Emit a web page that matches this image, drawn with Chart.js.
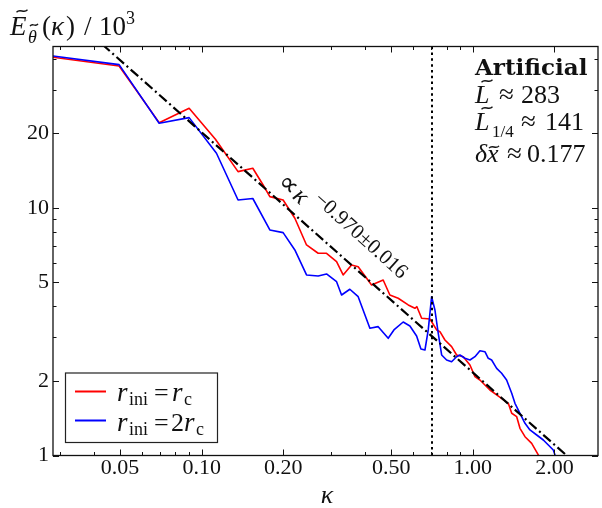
<!DOCTYPE html>
<html><head><meta charset="utf-8">
<script src="https://cdn.jsdelivr.net/npm/chart.js@4.4.1/dist/chart.umd.min.js"></script>
<style>html,body{margin:0;padding:0;background:#fff}#wrap{width:602px;height:508px}</style>
</head><body><div id="wrap"><canvas id="c" width="602" height="508"></canvas></div>
<script>
// ---- data (kappa, E/10^3) ----
const redK = [0.0283, 0.0496, 0.0697, 0.0899, 0.1124, 0.1362, 0.1544, 0.1685, 0.1784, 0.1997, 0.2206, 0.2436, 0.2689, 0.2887, 0.3144, 0.3324, 0.3570, 0.3777, 0.4232, 0.4670, 0.4943, 0.5305, 0.5777, 0.6114, 0.6219, 0.6474, 0.6945, 0.7354, 0.7563, 0.7889, 0.8350, 0.8713, 0.9217, 0.9757, 1.018, 1.062, 1.156, 1.224, 1.351, 1.391, 1.451, 1.492, 1.557, 1.648, 1.743, 1.799];
const redE = [40.63, 37.47, 22.11, 25.28, 18.95, 14.02, 14.47, 12.38, 11.11, 10.77, 9.087, 7.088, 6.561, 6.561, 6.067, 5.362, 5.885, 5.792, 4.886, 5.118, 4.451, 4.317, 4.057, 3.933, 3.992, 3.584, 3.561, 3.215, 3.164, 2.929, 2.752, 2.547, 2.507, 2.321, 2.082, 2.019, 1.839, 1.756, 1.625, 1.481, 1.435, 1.288, 1.191, 1.120, 1.005, 0.941];
const blueK = [0.0283, 0.0496, 0.0697, 0.0899, 0.1134, 0.1362, 0.1544, 0.1784, 0.1997, 0.2206, 0.2436, 0.2689, 0.2887, 0.3144, 0.3280, 0.3519, 0.3777, 0.4172, 0.4477, 0.4874, 0.5116, 0.5535, 0.5860, 0.6203, 0.6435, 0.6658, 0.6847, 0.7046, 0.7247, 0.7455, 0.7672, 0.8003, 0.8350, 0.8713, 0.8961, 0.9350, 0.9757, 1.018, 1.062, 1.108, 1.140, 1.173, 1.224, 1.277, 1.332, 1.391, 1.430, 1.492, 1.557, 1.624, 1.720, 1.819, 1.898, 1.980, 2.026];
const blueE = [41.12, 37.93, 21.99, 23.17, 16.63, 10.77, 10.92, 8.150, 7.948, 6.766, 5.362, 5.312, 5.411, 5.037, 4.451, 4.694, 4.381, 3.266, 3.315, 2.975, 3.215, 3.462, 3.337, 3.040, 2.693, 2.668, 3.215, 4.381, 3.871, 3.117, 2.547, 2.431, 2.393, 2.507, 2.547, 2.470, 2.431, 2.507, 2.651, 2.627, 2.470, 2.431, 2.250, 2.148, 2.019, 1.784, 1.625, 1.481, 1.349, 1.268, 1.210, 1.155, 1.103, 1.053, 0.977];
// power-law fit line end points
const fitK = [0.043, 2.3];
const fitE = [45.8, 0.965];
// vertical dotted marker
const markK = [0.707, 0.707];
const markE = [0.9, 50];
// ticks
const xMajor = [0.05, 0.1, 0.2, 0.5, 1, 2];
const xLabels = ['0.05', '0.10', '0.20', '0.50', '1.00', '2.00'];
const xMinor = [0.03, 0.04, 0.06, 0.07, 0.08, 0.09, 0.3, 0.4, 0.6, 0.7, 0.8, 0.9];
const yMajor = [1, 2, 5, 10, 20];
const yLabels = ['1', '2', '5', '10', '20'];
const yMinor = [3, 4, 6, 7, 8, 9, 30, 40];

const pts = (ks, es) => ks.map((k, i) => ({x: k, y: es[i]}));
const SERIF = '"Liberation Serif"';

function tx(ctx, s, x, y, font, align) {
  ctx.font = font; ctx.textAlign = align || 'left'; ctx.textBaseline = 'alphabetic';
  ctx.fillText(s, x, y);
}
function tilde(ctx, cx, cy, w) {
  ctx.save();
  ctx.lineWidth = 1.3; ctx.strokeStyle = '#111';
  ctx.beginPath();
  ctx.moveTo(cx - w / 2, cy + 1.2);
  ctx.bezierCurveTo(cx - w / 6, cy - 3, cx + w / 6, cy + 3, cx + w / 2, cy - 1.2);
  ctx.stroke();
  ctx.restore();
}

const decor = {
  id: 'decor',
  afterDatasetsDraw(chart) {
    const {ctx, chartArea: a, scales: {x, y}} = chart;
    ctx.save();
    // frame
    ctx.strokeStyle = '#111';
    ctx.lineWidth = 1.3;
    ctx.strokeRect(a.left, a.top, a.right - a.left, a.bottom - a.top);
    // inward ticks on all sides
    ctx.lineWidth = 1;
    ctx.beginPath();
    const xt = (v, L) => { const p = Math.round(x.getPixelForValue(v)) + 0.5;
      ctx.moveTo(p, a.bottom); ctx.lineTo(p, a.bottom - L); ctx.moveTo(p, a.top); ctx.lineTo(p, a.top + L); };
    const yt = (v, L) => { const p = Math.round(y.getPixelForValue(v)) + 0.5;
      ctx.moveTo(a.left, p); ctx.lineTo(a.left + L, p); ctx.moveTo(a.right, p); ctx.lineTo(a.right - L, p); };
    xMajor.forEach(v => xt(v, 6)); xMinor.forEach(v => xt(v, 3.5));
    yMajor.forEach(v => yt(v, 6)); yMinor.forEach(v => yt(v, 3.5));
    ctx.stroke();

    ctx.fillStyle = '#111';
    // y title (top-left)
    tx(ctx, 'E', 10, 35, 'italic 27px ' + SERIF);
    tilde(ctx, 22, 11, 11);
    tx(ctx, 'θ', 28, 43, 'italic 18px ' + SERIF);
    tilde(ctx, 34, 25, 8);
    tx(ctx, '(', 42, 35, '27px ' + SERIF);
    tx(ctx, 'κ', 51, 35, 'italic 27px ' + SERIF);
    tx(ctx, ')', 66, 35, '27px ' + SERIF);
    tx(ctx, '/', 84, 35, '27px ' + SERIF);
    tx(ctx, '10', 99, 35, '27px ' + SERIF);
    tx(ctx, '3', 126, 24, '18px ' + SERIF);

    // x title
    tx(ctx, 'κ', 327, 503, 'italic 26px ' + SERIF, 'center');

    // info box (top-right)
    tx(ctx, 'Artificial', 475, 75, 'bold 23px "DejaVu Serif"');
    tx(ctx, 'L', 475, 103, 'italic 26px ' + SERIF);
    tilde(ctx, 487, 81, 11);
    tx(ctx, '≈', 499, 103, '27px ' + SERIF);
    tx(ctx, '283', 521, 103, '26px ' + SERIF);
    tx(ctx, 'L', 475, 130, 'italic 26px ' + SERIF);
    tilde(ctx, 487, 108, 11);
    tx(ctx, '1/4', 492, 137, '17px ' + SERIF);
    tx(ctx, '≈', 521, 130, '27px ' + SERIF);
    tx(ctx, '141', 545, 130, '26px ' + SERIF);
    tx(ctx, 'δ', 475, 162, 'italic 26px ' + SERIF);
    tx(ctx, 'x', 487, 162, 'italic 26px ' + SERIF);
    tilde(ctx, 494, 147, 10);
    tx(ctx, '≈', 507, 162, '27px ' + SERIF);
    tx(ctx, '0.177', 527, 162, '26px ' + SERIF);

    // rotated power-law annotation
    ctx.save();
    ctx.translate(276, 183.5);
    ctx.rotate(42 * Math.PI / 180);
    tx(ctx, '∝', 0, 0, '27px ' + SERIF);
    tx(ctx, 'κ', 21, 0, 'italic 25px ' + SERIF);
    tx(ctx, '−0.970±0.016', 39, -12, '21px ' + SERIF);
    ctx.restore();

    // legend
    ctx.fillStyle = '#fff';
    ctx.fillRect(65.5, 373, 152, 69.5);
    ctx.strokeStyle = '#222'; ctx.lineWidth = 1.2;
    ctx.strokeRect(65.5, 373, 152, 69.5);
    ctx.lineWidth = 2;
    ctx.strokeStyle = '#ff0000';
    ctx.beginPath(); ctx.moveTo(75, 391.5); ctx.lineTo(106, 391.5); ctx.stroke();
    ctx.strokeStyle = '#0000ff';
    ctx.beginPath(); ctx.moveTo(75, 420.5); ctx.lineTo(106, 420.5); ctx.stroke();
    ctx.fillStyle = '#111';
    tx(ctx, 'r', 117, 400.5, 'italic 27px ' + SERIF);
    tx(ctx, 'ini', 129, 405, '18px ' + SERIF);
    tx(ctx, '=', 154, 400.5, '26px ' + SERIF);
    tx(ctx, 'r', 172, 400.5, 'italic 27px ' + SERIF);
    tx(ctx, 'c', 184, 405, '18px ' + SERIF);
    tx(ctx, 'r', 117, 430.5, 'italic 27px ' + SERIF);
    tx(ctx, 'ini', 129, 435, '18px ' + SERIF);
    tx(ctx, '=', 154, 430.5, '26px ' + SERIF);
    tx(ctx, '2', 171, 430.5, '26px ' + SERIF);
    tx(ctx, 'r', 184, 430.5, 'italic 27px ' + SERIF);
    tx(ctx, 'c', 196, 435, '18px ' + SERIF);
    ctx.restore();
  }
};

new Chart(document.getElementById('c'), {
  type: 'scatter',
  data: {
    datasets: [
      {label: 'fit', data: pts(fitK, fitE), showLine: true, pointRadius: 0, borderColor: '#000', borderWidth: 2.2, borderDash: [10, 3.5, 2, 3.5], clip: 0},
      {label: 'mark', data: pts(markK, markE), showLine: true, pointRadius: 0, borderColor: '#000', borderWidth: 2, borderDash: [2.5, 3.3], clip: 0},
      {label: 'r_ini = 2r_c', data: pts(blueK, blueE), showLine: true, pointRadius: 0, borderColor: '#0000ff', borderWidth: 1.6, borderJoinStyle: 'round', clip: 0},
      {label: 'r_ini = r_c', data: pts(redK, redE), showLine: true, pointRadius: 0, borderColor: '#ff0000', borderWidth: 1.6, borderJoinStyle: 'round', clip: 0}
    ]
  },
  options: {
    responsive: false, animation: false, devicePixelRatio: 1,
    layout: {padding: {left: 0, right: 4, top: 46.5, bottom: 0}},
    plugins: {legend: {display: false}, tooltip: {enabled: false}, title: {display: false}},
    scales: {
      x: {
        type: 'logarithmic', min: 0.0283, max: 2.894,
        grid: {display: false, drawTicks: false}, border: {display: false},
        afterBuildTicks: s => { s.ticks = xMajor.map(v => ({value: v})); },
        afterFit: s => { s.height = 52.5; },
        ticks: {autoSkip: false, maxRotation: 0, minRotation: 0, padding: 0, color: '#111',
          font: {family: SERIF, size: 22}, callback: (v, i) => xLabels[i]}
      },
      y: {
        type: 'logarithmic', min: 1, max: 44.9,
        grid: {display: false, drawTicks: false}, border: {display: false},
        afterBuildTicks: s => { s.ticks = yMajor.map(v => ({value: v})); },
        afterFit: s => { s.width = 53; },
        ticks: {autoSkip: false, padding: 4, color: '#111',
          font: {family: SERIF, size: 22}, callback: (v, i) => yLabels[i]}
      }
    }
  },
  plugins: [decor]
});
</script>
</body></html>
